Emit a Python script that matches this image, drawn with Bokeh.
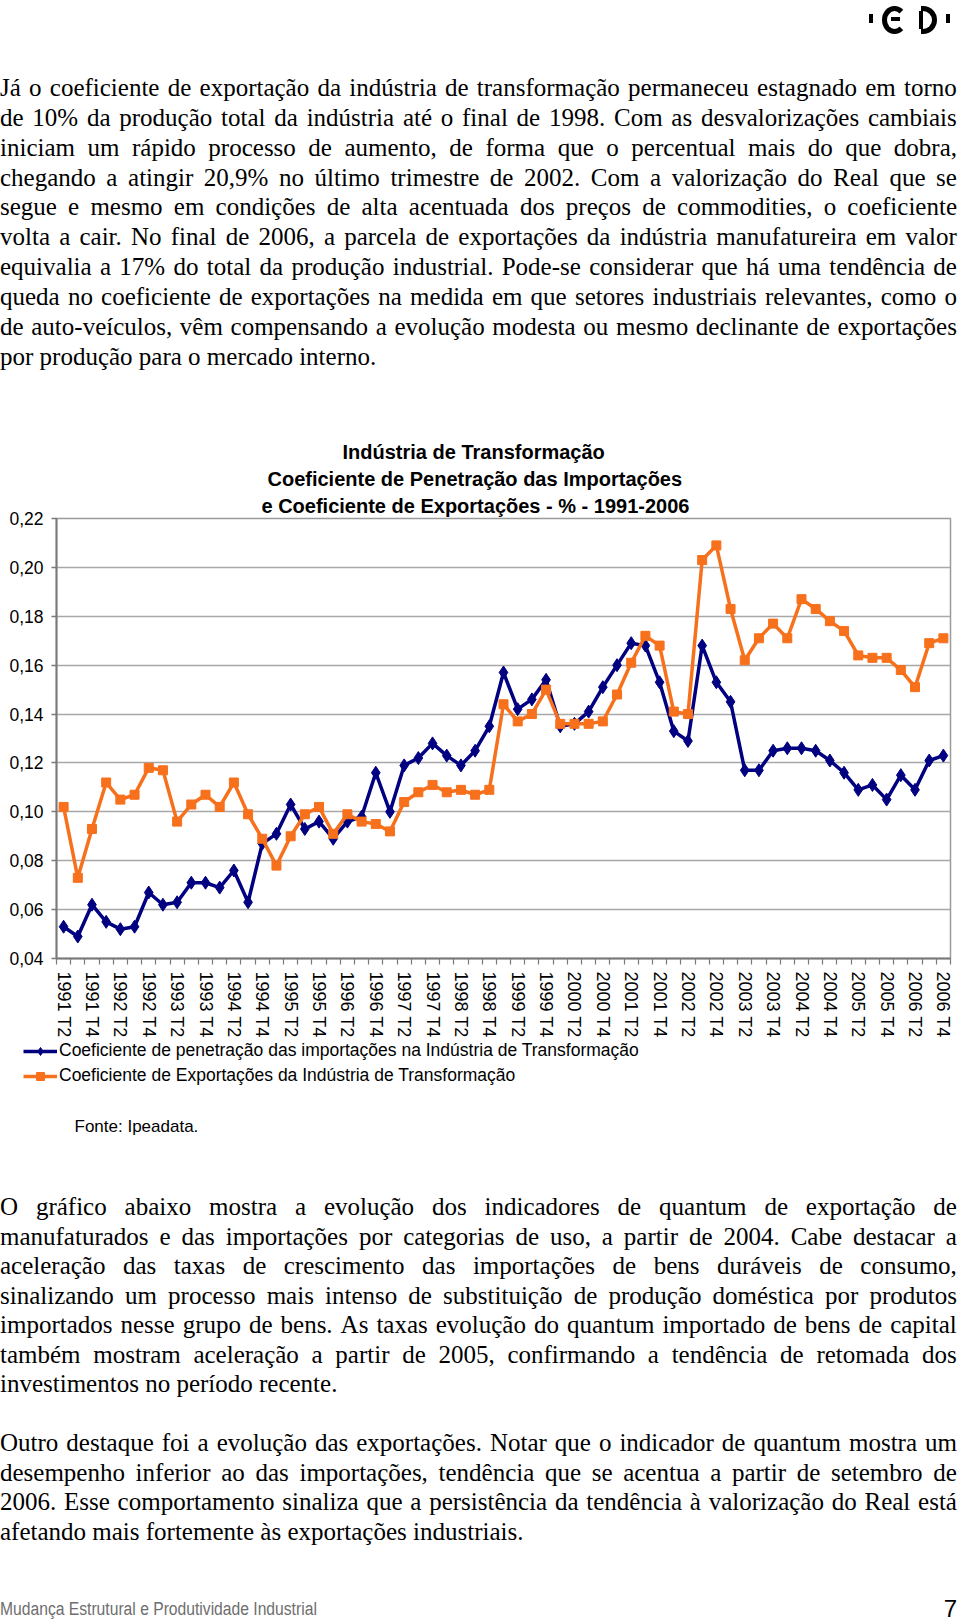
from bokeh.plotting import figure
from bokeh.models import (Range1d, FixedTicker, Div, CustomJSTickFormatter, Title,
                          Legend, LegendItem, Label)
from bokeh.layouts import column
from bokeh.embed import file_html
from bokeh.resources import INLINE

# ---------------- data ----------------
x_tick_labels = ["1991 T2", "1991 T4", "1992 T2", "1992 T4", "1993 T2", "1993 T4",
                 "1994 T2", "1994 T4", "1995 T2", "1995 T4", "1996 T2", "1996 T4",
                 "1997 T2", "1997 T4", "1998 T2", "1998 T4", "1999 T2", "1999 T4",
                 "2000 T2", "2000 T4", "2001 T2", "2001 T4", "2002 T2", "2002 T4",
                 "2003 T2", "2003 T4", "2004 T2", "2004 T4", "2005 T2", "2005 T4",
                 "2006 T2", "2006 T4"]

imports_coef = [0.053, 0.049, 0.062, 0.055, 0.052, 0.053, 0.067, 0.062, 0.063, 0.071,
                0.071, 0.069, 0.076, 0.063, 0.087, 0.091, 0.103, 0.093, 0.096, 0.089,
                0.096, 0.098, 0.116, 0.100, 0.119, 0.122, 0.128, 0.123, 0.119, 0.125,
                0.135, 0.157, 0.142, 0.146, 0.154, 0.135, 0.136, 0.141, 0.151, 0.160,
                0.169, 0.168, 0.153, 0.133, 0.129, 0.168, 0.153, 0.145, 0.117, 0.117,
                0.125, 0.126, 0.126, 0.125, 0.121, 0.116, 0.109, 0.111, 0.105, 0.115,
                0.109, 0.121, 0.123]

exports_coef = [0.102, 0.073, 0.093, 0.112, 0.105, 0.107, 0.118, 0.117, 0.096, 0.103,
                0.107, 0.102, 0.112, 0.099, 0.089, 0.078, 0.090, 0.099, 0.102, 0.091,
                0.099, 0.096, 0.095, 0.092, 0.104, 0.108, 0.111, 0.108, 0.109, 0.107,
                0.109, 0.144, 0.137, 0.140, 0.150, 0.136, 0.136, 0.136, 0.137, 0.148,
                0.161, 0.172, 0.168, 0.141, 0.140, 0.203, 0.209, 0.183, 0.162, 0.171,
                0.177, 0.171, 0.187, 0.183, 0.178, 0.174, 0.164, 0.163, 0.163, 0.158,
                0.151, 0.169, 0.171]

y_ticks = [0.04, 0.06, 0.08, 0.10, 0.12, 0.14, 0.16, 0.18, 0.20, 0.22]

series_names = ["Coeficiente de penetração das importações na Indústria de Transformação",
                "Coeficiente de Exportações da Indústria de Transformação"]

title_lines = ["Indústria de Transformação",
               "Coeficiente de Penetração das Importações",
               "e Coeficiente de Exportações - % - 1991-2006"]

source_note = "Fonte: Ipeadata."

para1 = [
    "Já o coeficiente de exportação da indústria de transformação permaneceu estagnado em torno",
    "de 10% da produção total da indústria até o final de 1998. Com as desvalorizações cambiais",
    "iniciam um rápido processo de aumento, de forma que o percentual mais do que dobra,",
    "chegando a atingir 20,9% no último trimestre de 2002. Com a valorização do Real que se",
    "segue e mesmo em condições de alta acentuada dos preços de commodities, o coeficiente",
    "volta a cair. No final de 2006, a parcela de exportações da indústria manufatureira em valor",
    "equivalia a 17% do total da produção industrial. Pode-se considerar que há uma tendência de",
    "queda no coeficiente de exportações na medida em que setores industriais relevantes, como o",
    "de auto-veículos, vêm compensando a evolução modesta ou mesmo declinante de exportações",
    "por produção para o mercado interno.",
]
para2 = [
    "O gráfico abaixo mostra a evolução dos indicadores de quantum de exportação de",
    "manufaturados e das importações por categorias de uso, a partir de 2004. Cabe destacar a",
    "aceleração das taxas de crescimento das importações de bens duráveis de consumo,",
    "sinalizando um processo mais intenso de substituição de produção doméstica por produtos",
    "importados nesse grupo de bens. As taxas evolução do quantum importado de bens de capital",
    "também mostram aceleração a partir de 2005, confirmando a tendência de retomada dos",
    "investimentos no período recente.",
]
para3 = [
    "Outro destaque foi a evolução das exportações. Notar que o indicador de quantum mostra um",
    "desempenho inferior ao das importações, tendência que se acentua a partir de setembro de",
    "2006. Esse comportamento sinaliza que a persistência da tendência à valorização do Real está",
    "afetando mais fortemente às exportações industriais.",
]
footer_text = "Mudança Estrutural e Produtividade Industrial"
page_number = "7"

# ---------------- layout constants ----------------
BLUE = "#000080"
ORANGE = "#F7701C"
SANS = "Liberation Sans"
SERIF = "'Liberation Serif','Times New Roman',serif"

TOP_H = 420          # page y 0 .. 420    : text
FIG_H = 620          # page y 420 .. 1040 : chart
LEG_H = 110          # page y 1040 .. 1150: legend + source
BOT_H = 470          # page y 1150 .. 1620: text
FR_L, FR_R, FR_T, FR_B = 56, 950, 518, 958   # chart frame in page coords
N = len(imports_coef)


# ---------------- text blocks ----------------
def line_div(text, top, justify, width=957):
    base = (f"position:absolute;left:0px;top:{top:.1f}px;width:{width}px;height:30px;"
            f"line-height:30px;font-family:{SERIF};font-size:25px;color:#000;white-space:nowrap;")
    if justify:
        spans = "".join(f"<span>{w}</span>" for w in text.split(" "))
        return f'<div style="{base}display:flex;justify-content:space-between;">{spans}</div>'
    return f'<div style="{base}">{text}</div>'


def paragraph(lines, first_center, spacing, offset):
    out = []
    for i, t in enumerate(lines):
        top = first_center + i * spacing - offset - 18
        out.append(line_div(t, top, i < len(lines) - 1))
    return "".join(out)


logo = (
    '<div style="position:absolute;left:869px;top:14px;width:4px;height:9px;background:#000;"></div>'
    '<div style="position:absolute;left:882px;top:6px;width:15px;height:18px;border:5px solid #000;'
    'border-right-color:transparent;border-radius:50%;box-sizing:content-box;"></div>'
    '<div style="position:absolute;left:891px;top:17px;width:9px;height:4px;background:#000;"></div>'
    '<div style="position:absolute;left:919px;top:11px;width:4px;height:18px;background:#000;"></div>'
    '<div style="position:absolute;left:921px;top:6px;width:11px;height:18px;border:5px solid #000;'
    'border-left:none;border-radius:0 14px 14px 0;box-sizing:content-box;"></div>'
    '<div style="position:absolute;left:946px;top:14px;width:4px;height:9px;background:#000;"></div>'
)

top_html = (f'<div style="position:relative;width:960px;height:{TOP_H}px;">'
            + logo + paragraph(para1, 91, 29.84, 0) + '</div>')
top_div = Div(text=top_html, width=960, height=TOP_H, margin=0)

bot_off = TOP_H + FIG_H + LEG_H
footer = (
    f'<div style="position:absolute;left:0px;top:{1609 - bot_off - 11}px;height:22px;line-height:22px;'
    f'font-family:{SANS};font-size:18px;color:#6e6e6e;white-space:nowrap;'
    f'transform:scaleX(0.87);transform-origin:left center;">{footer_text}</div>'
    f'<div style="position:absolute;left:900px;width:57px;text-align:right;top:{1609 - bot_off - 14}px;'
    f'height:28px;line-height:28px;font-family:{SANS};font-size:24px;color:#000;">{page_number}</div>'
)
bot_html = (f'<div style="position:relative;width:960px;height:{BOT_H}px;">'
            + paragraph(para2, 1210, 29.5, bot_off)
            + paragraph(para3, 1446, 29.5, bot_off)
            + footer + '</div>')
bot_div = Div(text=bot_html, width=960, height=BOT_H, margin=0)

# ---------------- chart ----------------
p = figure(width=960, height=FIG_H,
           x_range=Range1d(-0.5, N - 0.5), y_range=Range1d(0.04, 0.22),
           output_backend="svg", toolbar_location=None,
           min_border_left=FR_L, min_border_right=960 - FR_R,
           min_border_top=FR_T - TOP_H, min_border_bottom=TOP_H + FIG_H - FR_B)
p.background_fill_color = "white"
p.border_fill_color = "white"
p.outline_line_color = "#9a9a9a"
p.outline_line_width = 1.5

# title: three stacked lines; p.title is the outermost one
title_offsets = [342 - FR_L, 267 - FR_L, 261 - FR_L]
p.title.text = title_lines[0]
p.title.align = "left"
p.title.offset = title_offsets[0]
p.title.standoff = 3
p.title.text_font = SANS
p.title.text_font_style = "bold"
p.title.text_font_size = "20px"
p.title.text_color = "#000"
for i in (2, 1):
    p.add_layout(Title(text=title_lines[i], align="left", offset=title_offsets[i], standoff=3,
                       text_font=SANS, text_font_style="bold", text_font_size="20px",
                       text_color="#000"), "above")

p.xgrid.visible = False
p.ygrid.grid_line_color = "#a8a8a8"
p.ygrid.grid_line_width = 1.5
p.ygrid.ticker = FixedTicker(ticks=y_ticks)

# y axis
p.yaxis.ticker = FixedTicker(ticks=y_ticks)
p.yaxis.formatter = CustomJSTickFormatter(code="return tick.toFixed(2).replace('.', ',');")
p.yaxis.axis_line_color = "#7a7a7a"
p.yaxis.axis_line_width = 2
p.yaxis.major_tick_line_color = "#7a7a7a"
p.yaxis.major_tick_line_width = 1.5
p.yaxis.major_tick_out = 5
p.yaxis.major_tick_in = 0
p.yaxis.minor_tick_line_color = None
p.yaxis.major_label_standoff = 8
p.yaxis.major_label_text_font = SANS
p.yaxis.major_label_text_font_size = "17.5px"
p.yaxis.major_label_text_color = "#000"

# x axis
p.xaxis.ticker = FixedTicker(ticks=list(range(0, N, 2)),
                             minor_ticks=[i - 0.5 for i in range(N + 1)])
p.xaxis.formatter = CustomJSTickFormatter(
    args=dict(labels=x_tick_labels),
    code="const i = Math.round(tick / 2); return (i >= 0 && i < labels.length) ? labels[i] : '';")
p.xaxis.axis_line_color = "#7a7a7a"
p.xaxis.axis_line_width = 2
p.xaxis.major_tick_line_color = None
p.xaxis.major_tick_out = 6
p.xaxis.major_tick_in = 0
p.xaxis.minor_tick_line_color = "#7a7a7a"
p.xaxis.minor_tick_line_width = 1.2
p.xaxis.minor_tick_out = 6
p.xaxis.minor_tick_in = 0
p.xaxis.major_label_orientation = "vertical"
p.xaxis.major_label_standoff = 7
p.xaxis.major_label_text_font = SANS
p.xaxis.major_label_text_font_size = "18px"
p.xaxis.major_label_text_color = "#000"

xs = list(range(N))
p.line(xs, imports_coef, line_color=BLUE, line_width=3.5)
p.scatter(xs, imports_coef, marker="diamond", size=13, fill_color=BLUE, line_color=BLUE)
p.line(xs, exports_coef, line_color=ORANGE, line_width=3.5)
p.scatter(xs, exports_coef, marker="square", size=9, fill_color=ORANGE, line_color=ORANGE)

# ---------------- legend strip (legend + source note) ----------------
LEG_TOP = TOP_H + FIG_H
lf = figure(width=960, height=LEG_H, x_range=Range1d(0, 960), y_range=Range1d(0, LEG_H),
            x_axis_type=None, y_axis_type=None,
            output_backend="svg", toolbar_location=None,
            min_border=0, min_border_left=0, min_border_right=0,
            min_border_top=0, min_border_bottom=0)
try:
    lf.frame_align = False
    p.frame_align = False
except Exception:
    pass
lf.grid.visible = False
lf.outline_line_color = None
lf.background_fill_color = "white"
lf.border_fill_color = "white"
# legend samples only (placed far outside the visible range)
k1 = lf.line(x=[-999, -998], y=[-999, -999], line_color=BLUE, line_width=3.5)
m1 = lf.scatter(x=[-999], y=[-999], marker="diamond", size=13, fill_color=BLUE, line_color=BLUE)
k2 = lf.line(x=[-999, -998], y=[-999, -999], line_color=ORANGE, line_width=3.5)
m2 = lf.scatter(x=[-999], y=[-999], marker="square", size=9, fill_color=ORANGE, line_color=ORANGE)
lg = Legend(items=[LegendItem(label=series_names[0], renderers=[k1, m1]),
                   LegendItem(label=series_names[1], renderers=[k2, m2])],
            location=(23, LEG_TOP + LEG_H - 1086))
lg.padding = 0
lg.margin = 0
lg.spacing = 4
lg.glyph_width = 34
lg.glyph_height = 20
lg.label_height = 20
lg.label_standoff = 2
lg.border_line_color = None
lg.background_fill_alpha = 0
lg.label_text_font = SANS
lg.label_text_font_size = "17.5px"
lg.label_text_color = "#000"
lf.add_layout(lg, "center")
lf.add_layout(Label(x=74, y=LEG_TOP + LEG_H - 1126, text=source_note, text_align="left",
                    text_baseline="middle", text_font=SANS, text_font_size="17px",
                    text_color="#000"))

# ---------------- page ----------------
try:
    from bokeh.models import GlobalInlineStyleSheet
    page = column(top_div, p, lf, bot_div, spacing=0,
                  stylesheets=[GlobalInlineStyleSheet(css="html,body{margin:0;padding:0;}")])
except Exception:
    page = column(top_div, p, lf, bot_div, spacing=0,
                  styles={"position": "absolute", "left": "0px", "top": "0px"})

open("out.html", "w").write(file_html(page, INLINE))
